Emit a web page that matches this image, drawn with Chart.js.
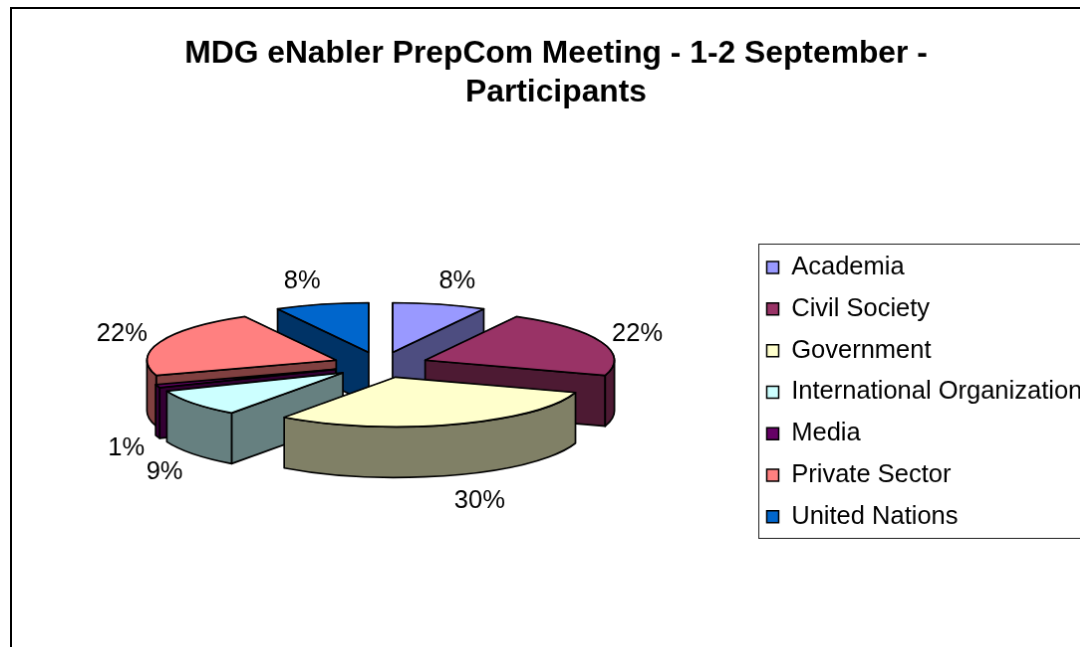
<!DOCTYPE html>
<html>
<head>
<meta charset="utf-8">
<style>
html,body{margin:0;padding:0;background:#fff;overflow:hidden;width:1080px;height:647px}
#wrap{position:absolute;left:0;top:0;width:1080px;height:647px;overflow:hidden}
#c{position:absolute;left:10px;top:7px;border:2px solid #000;background:#fff}
</style>
<script src="https://cdn.jsdelivr.net/npm/chart.js@4/dist/chart.umd.js"></script>
</head>
<body>
<div id="wrap"><canvas id="c" width="1092" height="670"></canvas></div>
<script>
const titleLines = ['MDG eNabler PrepCom Meeting - 1-2 September -', 'Participants'];
const categories = ['Academia','Civil Society','Government','International Organization','Media','Private Sector','United Nations'];
const values = [8,22,30,9,1,22,8];
const colors = ['#9999FF','#993366','#FFFFCC','#CCFFFF','#660066','#FF8080','#0066CC'];

const FONT = '"Liberation Sans", Arial, sans-serif';
const TILT = 0.27, FACE_TILT = 0.263, DEPTH = 51, EXPLODE = 48, RADIUS = 190;
const CENTER_X = 370, CENTER_Y = 358;
const LABEL_SIZE = 25.5, ROW_PAD = 16.3, TITLE_SIZE = 31.8;

function shade(hex){
  const n = parseInt(hex.slice(1),16);
  const f = v => Math.round(v/2);
  return `rgb(${f(n>>16&255)},${f(n>>8&255)},${f(n&255)})`;
}

const pie3d = {
  id:'pie3d',
  afterLayout(chart){
    const a = chart.chartArea;
    const hw = CENTER_X, hh = CENTER_Y - a.top;
    a.left = 0; a.right = 2*hw; a.bottom = a.top + 2*hh;
    a.width = 2*hw; a.height = 2*hh;
    const lg = chart.legend;
    lg.left = 757.5 - ROW_PAD;
    lg.top = 231;
    lg.bottom = lg.top + lg.height;
  },
  beforeDraw(chart){
    const lg = chart.legend, ctx = chart.ctx;
    const x = 749.5, y = lg.top + ROW_PAD - 11;
    ctx.save();
    ctx.strokeStyle = '#222'; ctx.lineWidth = 1;
    ctx.strokeRect(x, Math.round(y)+.5, 360, 296);
    ctx.restore();
  },
  beforeDatasetDraw(chart, args){
    const ctx = chart.ctx, meta = args.meta;
    const parts = meta.data.map((arc,i)=>{
      const mid = (arc.startAngle+arc.endAngle)/2;
      return {arc,i,mid,
        tx: arc.x + Math.cos(mid)*EXPLODE,
        ty: arc.y + Math.sin(mid)*EXPLODE*TILT};
    }).sort((p,q)=>p.ty-q.ty);
    ctx.save();
    ctx.lineWidth = 1.7; ctx.strokeStyle = '#000'; ctx.lineJoin = 'round';
    for(const p of parts){
      const {arc,i,tx,ty} = p, s = arc.startAngle, e = arc.endAngle, R = arc.outerRadius, r = R*FACE_TILT;
      ctx.fillStyle = shade(colors[i]);
      const walls = [];
      if(Math.cos(s) < -1e-6) walls.push(s);
      if(Math.cos(e) >  1e-6) walls.push(e);
      for(const a of walls){
        const x = tx+Math.cos(a)*R, y = ty+Math.sin(a)*r;
        ctx.beginPath(); ctx.moveTo(tx,ty); ctx.lineTo(x,y); ctx.lineTo(x,y+DEPTH); ctx.lineTo(tx,ty+DEPTH); ctx.closePath();
        ctx.fill(); ctx.stroke();
      }
      const lo = Math.max(s,0), hi = Math.min(e,Math.PI);
      if(hi>lo){
        ctx.beginPath();
        ctx.ellipse(tx,ty,R,r,0,lo,hi);
        ctx.ellipse(tx,ty+DEPTH,R,r,0,hi,lo,true);
        ctx.closePath(); ctx.fill(); ctx.stroke();
      }
      ctx.save();
      ctx.translate(tx,ty); ctx.scale(1,FACE_TILT); ctx.translate(-arc.x,-arc.y);
      arc.draw(ctx);
      ctx.restore();
      ctx.beginPath(); ctx.moveTo(tx,ty); ctx.ellipse(tx,ty,R,r,0,s,e); ctx.closePath(); ctx.stroke();
    }
    ctx.restore();
    return false;
  },
  afterDatasetsDraw(chart){
    const ctx = chart.ctx, arcs = chart.getDatasetMeta(0).data;
    ctx.save();
    ctx.font = `${LABEL_SIZE}px ${FONT}`; ctx.fillStyle='#000';
    ctx.textAlign='center'; ctx.textBaseline='middle';
    arcs.forEach((arc,i)=>{
      const mid=(arc.startAngle+arc.endAngle)/2, c=Math.cos(mid), s=Math.sin(mid);
      const t = values[i]+'%', w = ctx.measureText(t).width;
      const x = arc.x + c*255 + Math.sign(c)*(w/2-4) - 1;
      const y = arc.y + (s>0 ? 4+s*86+DEPTH : 1+s*88);
      ctx.fillText(t,x,y);
    });
    ctx.restore();
  }
};

new Chart(document.getElementById('c'),{
  type:'pie',
  data:{labels:categories,datasets:[{data:values,backgroundColor:colors,borderColor:'#000',borderWidth:1.5}]},
  options:{
    responsive:false,animation:false,events:[],
    radius:RADIUS,
    plugins:{
      tooltip:{enabled:false},
      title:{display:true,text:titleLines,color:'#000',
        font:{family:FONT,size:TITLE_SIZE,weight:'bold',lineHeight:39/TITLE_SIZE},
        padding:{top:26,bottom:10}},
      legend:{display:true,position:'right',align:'start',
        labels:{color:'#000',font:{family:FONT,size:LABEL_SIZE},boxWidth:12,boxHeight:12,padding:ROW_PAD}}
    }
  },
  plugins:[pie3d]
});
</script>
</body>
</html>
